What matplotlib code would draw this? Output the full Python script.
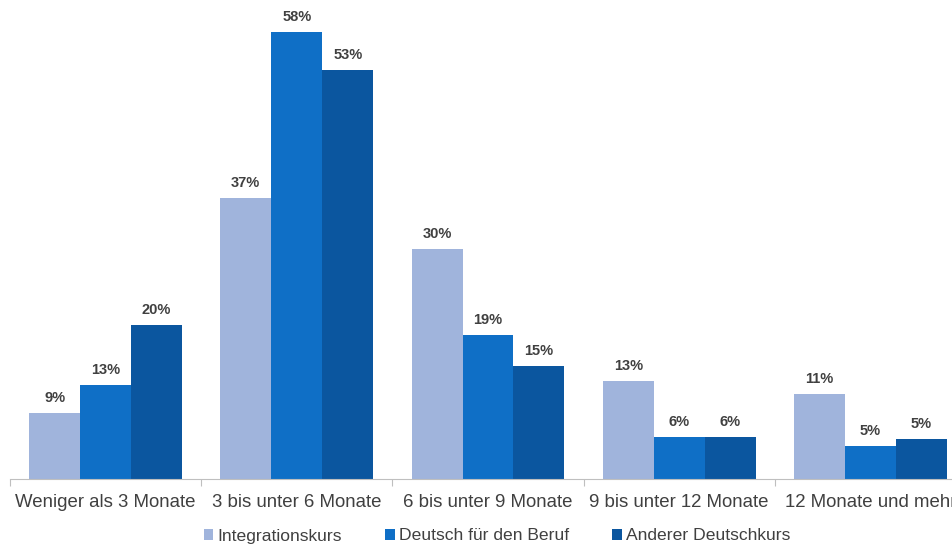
import numpy as np
import matplotlib
matplotlib.use("Agg")
import matplotlib.pyplot as plt

plt.rcParams['font.family'] = ['Liberation Sans', 'DejaVu Sans']

categories = ["Weniger als 3 Monate", "3 bis unter 6 Monate", "6 bis unter 9 Monate",
              "9 bis unter 12 Monate", "12 Monate und mehr"]
series = ["Integrationskurs", "Deutsch für den Beruf", "Anderer Deutschkurs"]
# bar heights (percent)
integration = [8.6, 36.4, 29.8, 12.7, 11.0]
beruf = [12.2, 58.0, 18.7, 5.4, 4.3]
anderer = [20.0, 53.0, 14.7, 5.4, 5.2]
# printed labels
lab_integration = ["9%", "37%", "30%", "13%", "11%"]
lab_beruf = ["13%", "58%", "19%", "6%", "5%"]
lab_anderer = ["20%", "53%", "15%", "6%", "5%"]

colors = ["#A0B4DC", "#0F6FC6", "#0B569F"]
txt = "#404040"

W, H = 952, 546
fig = plt.figure(figsize=(W/100, H/100), dpi=100)
# axes extends past the right edge like in the reference
ax = fig.add_axes([10/W, 67/H, 956/W, 479/H])

x = np.arange(len(categories))
bw = 0.8/3
vals = [integration, beruf, anderer]
labs = [lab_integration, lab_beruf, lab_anderer]
for i in range(3):
    pos = x + (i-1)*bw
    ax.bar(pos, vals[i], width=bw, color=colors[i], label=series[i])
    for p, v, l in zip(pos, vals[i], labs[i]):
        ax.text(p, v + 1.05, l, ha='center', va='bottom', fontsize=10.5,
                fontweight='bold', color=txt)

ax.set_xlim(-0.5, 4.5)
ax.set_ylim(0, 479/7.71)
for s in ['top', 'right', 'left']:
    ax.spines[s].set_visible(False)
ax.spines['bottom'].set_color('#BFBFBF')
ax.set_yticks([])
ax.set_xticks(np.arange(-0.5, 5, 1.0))
ax.set_xticklabels([])
ax.tick_params(axis='x', length=5, color='#BFBFBF')
for xi, c in zip(x, categories):
    ax.text(xi, -3.0, c, ha='center', va='center', fontsize=13.4, color=txt,
            transform=ax.transData, clip_on=False)

handles, labels = ax.get_legend_handles_labels()
fig.legend(handles, labels, loc='center', bbox_to_anchor=(497/W, 1 - 536/H),
           ncol=3, frameon=False, fontsize=12.6, handlelength=0.55, handleheight=0.55,
           handletextpad=0.25, columnspacing=2.45, labelcolor=txt)

fig.savefig("out.png", dpi=100)
